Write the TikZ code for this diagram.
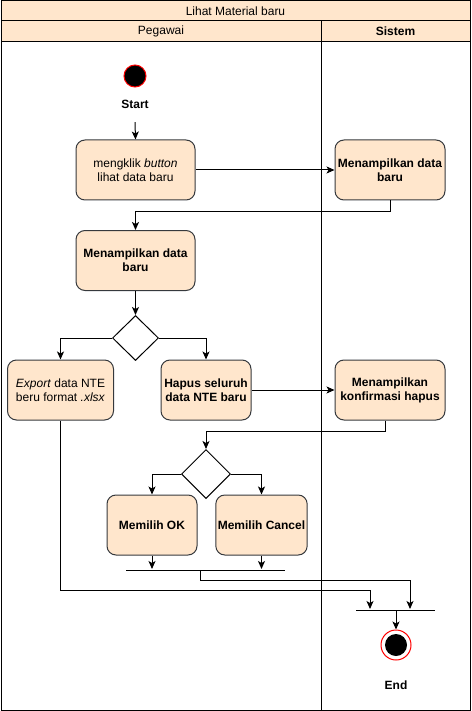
\documentclass[tikz,border=0pt]{standalone}
\usepackage{fontspec}
\setmainfont{Liberation Sans}
\usetikzlibrary{arrows.meta,positioning,shapes.geometric}
\definecolor{actfill}{RGB}{255,230,204}
\definecolor{actline}{RGB}{54,57,61}
\definecolor{startred}{RGB}{255,0,0}

\begin{document}
\begin{tikzpicture}[x=1pt, y=-1pt, line width=1pt, font=\fontsize{12}{14}\selectfont,
  >={Stealth[length=8pt,width=7pt,inset=2pt]},
  act/.style={draw=actline, rounded corners=9pt, fill=actfill, minimum width=119pt,
              minimum height=60pt, align=center, inner sep=2pt},
  dec/.style={draw, diamond, minimum width=46pt, minimum height=45pt, inner sep=0pt},
  bar/.style={fill=black, minimum height=1pt, inner sep=0pt}]
\useasboundingbox (0,0) rectangle (471,711);

% --- swimlanes ---
\draw (1,1) rectangle (470,710);
\draw[fill=actfill] (1,1) rectangle (470,21);
\draw[fill=actfill] (1,21) rectangle (470,42);
\draw (321,21) -- (321,710);
\node (title) at (235.5,11) {Lihat Material baru};
\node (lanea) at (161,31.5) {Pegawai};
\node (laneb) at (395.5,31.5) {\bfseries Sistem};

% --- start ---
\node[circle, draw=startred, fill=black, minimum size=22pt, inner sep=0pt] (start) at (135,76) {};
\node (startlbl) at (135,104) {\bfseries Start};

% --- activities ---
\node[act] (click) at (135.5,170) {mengklik \textit{button}\\lihat data baru};
\node[act, minimum width=110pt] (sys1) at (390,170) {\bfseries Menampilkan data\\\bfseries baru};
\node[act] (show) at (135.5,260.5) {\bfseries Menampilkan data\\\bfseries baru};
\node[dec] (dec1) at (135.5,338) {};
\node[act, minimum width=106pt] (export) at (60.5,390) {\textit{Export} data NTE\\beru format \textit{.xlsx}};
\node[act, minimum width=90pt] (hapus) at (206,390) {\bfseries Hapus seluruh\\\bfseries data NTE baru};
\node[act, minimum width=110pt] (confirm) at (390,390) {\bfseries Menampilkan\\\bfseries konfirmasi hapus};
\node[dec, minimum width=49pt, minimum height=49pt] (dec2) at (206,474) {};
\node[act, minimum width=90pt] (ok) at (152,525) {\bfseries Memilih OK};
\node[act, minimum width=90pt] (cancel) at (261.5,525) {\bfseries Memilih Cancel};

% --- joins and end ---
\node[bar, minimum width=159pt] (join1) at (205.5,570) {};
\node[bar, minimum width=79pt] (join2) at (395.5,610) {};
\node[circle, draw=startred, minimum size=30pt, inner sep=0pt] (finish) at (396,645) {};
\node[circle, fill=black, minimum size=22pt, inner sep=0pt] (finishdot) at (finish) {};
\node (endlbl) at (396,685) {\bfseries End};

% --- flows ---
\draw[->] (startlbl.south) ++(0,10) -- (click.north);
\draw[->] (click.east) -- (sys1.west);
\draw[->] (sys1.south) -- ++(0,11) -| (show.north);
\draw[->] (show.south) -- (dec1.north);
\draw[->] (dec1.west) -| (export.north);
\draw[->] (dec1.east) -| (hapus.north);
\draw[->] (hapus.east) -- (confirm.west);
\draw[->] ([xshift=-5pt]confirm.south) -- ++(0,11) -| (dec2.north);
\draw[->] (dec2.west) -| (ok.north);
\draw[->] (dec2.east) -| (cancel.north);
\draw[->] (ok.south) -- (ok.south |- join1.north);
\draw[->] (cancel.south) -- (cancel.south |- join1.north);
\draw[->] ([xshift=-5.5pt]join1.south) -- ++(0,9) -| ([xshift=14.5pt]join2.north);
\draw[->] (export.south) -- ++(0,170) -| ([xshift=-25.5pt]join2.north);
\draw[->] (join2.south -| finish.north) -- (finish.north);
\end{tikzpicture}
\end{document}
